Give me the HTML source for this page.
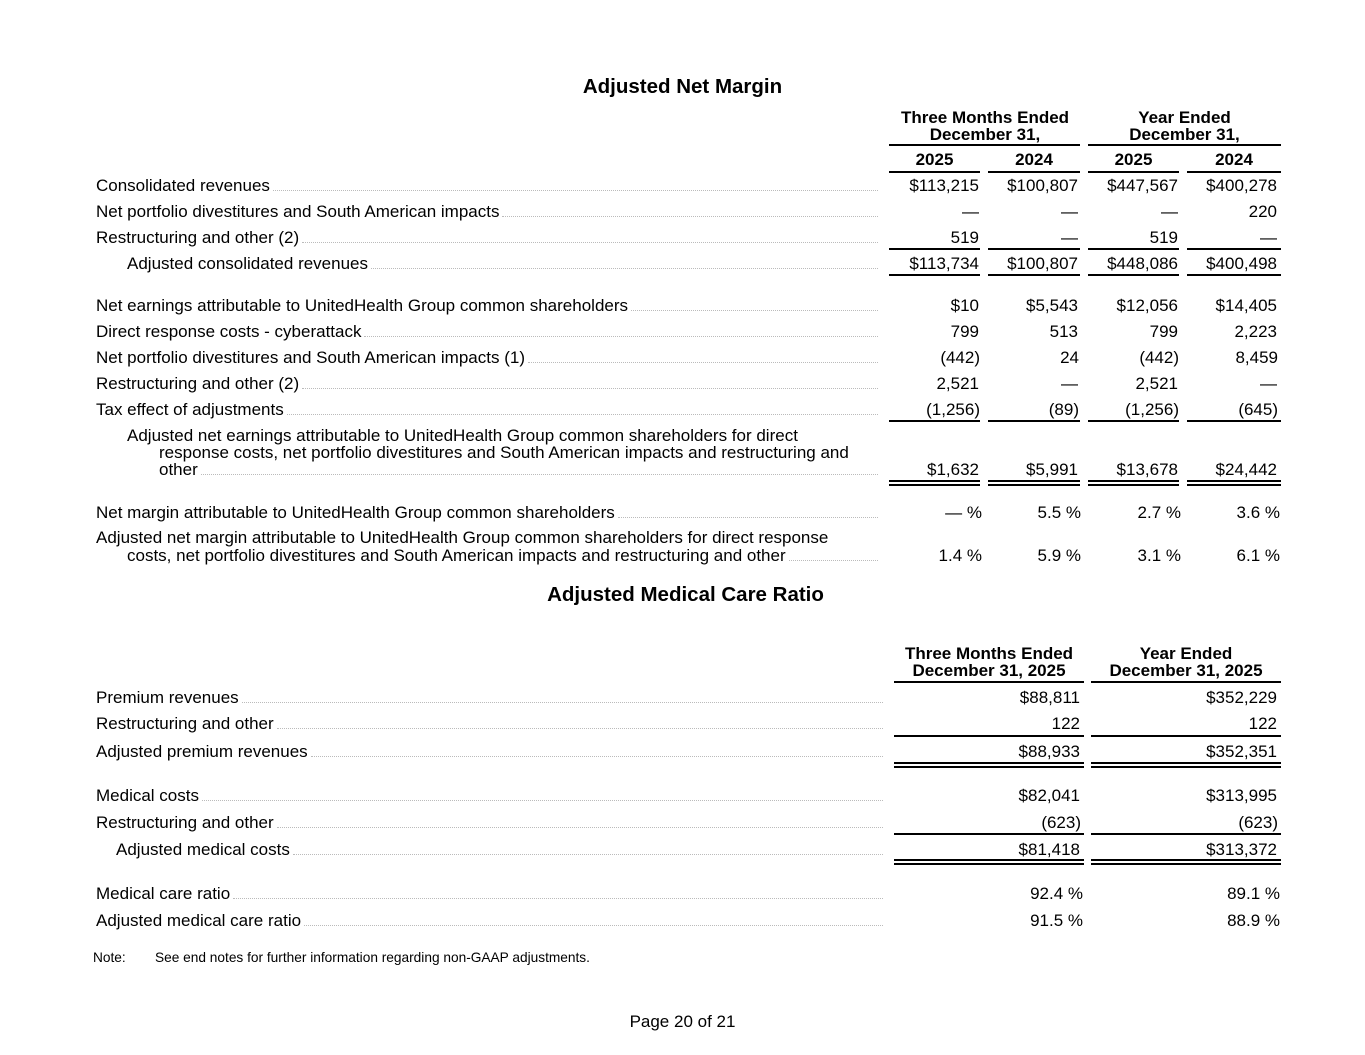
<!DOCTYPE html>
<html><head><meta charset="utf-8"><style>
body{margin:0;width:1365px;height:1055px;background:#fff;position:relative;font-family:"Liberation Sans",Arial,sans-serif;color:#000;overflow:hidden}
div{position:absolute}
#w{left:0;top:1px;width:1365px;height:1054px}
.t{font-weight:bold;font-size:20.5px;width:1365px;text-align:center;line-height:22px}
.r{left:96px;width:782px;height:20px;display:flex;font-size:17px;line-height:20px;white-space:nowrap}
.r2{width:787px}
.l{flex:1;border-bottom:1px dotted #bbb;margin:0 0 5px 3px}
.x{font-size:17px;line-height:20px;white-space:nowrap;}
.v{font-size:17px;line-height:20px;text-align:right;width:120px;white-space:nowrap}
.h{font-weight:bold;font-size:17px;line-height:17px;text-align:center;white-space:nowrap}
.ln{height:0;border-top:2px solid #000}
.dl{height:2px;border-top:2px solid #000;border-bottom:2px solid #000}
</style></head><body><div id="w">
<div class="t" style="top:75px;left:0">Adjusted Net Margin</div>
<div class="h" style="left:889px;width:192px;top:108px">Three Months Ended<br>December 31,</div>
<div class="h" style="left:1088px;width:193px;top:108px">Year Ended<br>December 31,</div>
<div class="ln" style="left:889px;width:191px;top:143px"></div>
<div class="ln" style="left:1088px;width:193px;top:143px"></div>
<div class="h" style="left:889px;width:91px;top:150px">2025</div>
<div class="h" style="left:988px;width:92px;top:150px">2024</div>
<div class="h" style="left:1088px;width:91px;top:150px">2025</div>
<div class="h" style="left:1187px;width:94px;top:150px">2024</div>
<div class="ln" style="left:889px;width:91px;top:170px"></div>
<div class="ln" style="left:988px;width:92px;top:170px"></div>
<div class="ln" style="left:1088px;width:91px;top:170px"></div>
<div class="ln" style="left:1187px;width:94px;top:170px"></div>

<div class="r" style="top:175px"><span>Consolidated revenues</span><span class="l"></span></div>
<div class="r" style="top:201px"><span>Net portfolio divestitures and South American impacts</span><span class="l"></span></div>
<div class="r" style="top:227px"><span>Restructuring and other (2)</span><span class="l"></span></div>
<div class="r" style="top:253px;left:127px;width:751px"><span>Adjusted consolidated revenues</span><span class="l"></span></div>
<div class="r" style="top:295px"><span>Net earnings attributable to UnitedHealth Group common shareholders</span><span class="l"></span></div>
<div class="r" style="top:321px"><span>Direct response costs - cyberattack</span><span class="l"></span></div>
<div class="r" style="top:347px"><span>Net portfolio divestitures and South American impacts (1)</span><span class="l"></span></div>
<div class="r" style="top:373px"><span>Restructuring and other (2)</span><span class="l"></span></div>
<div class="r" style="top:399px"><span>Tax effect of adjustments</span><span class="l"></span></div>
<div class="x" style="top:425px;left:127px">Adjusted net earnings attributable to UnitedHealth Group common shareholders for direct</div>
<div class="x" style="top:442px;left:159px">response costs, net portfolio divestitures and South American impacts and restructuring and</div>
<div class="r" style="top:459px;left:159px;width:719px"><span>other</span><span class="l"></span></div>
<div class="r" style="top:502px"><span>Net margin attributable to UnitedHealth Group common shareholders</span><span class="l"></span></div>
<div class="x" style="top:527px;left:96px">Adjusted net margin attributable to UnitedHealth Group common shareholders for direct response</div>
<div class="r" style="top:545px;left:127px;width:751px"><span>costs, net portfolio divestitures and South American impacts and restructuring and other</span><span class="l"></span></div>

<div class="v" style="top:175px;left:859px">$113,215</div><div class="v" style="top:175px;left:958px">$100,807</div><div class="v" style="top:175px;left:1058px">$447,567</div><div class="v" style="top:175px;left:1157px">$400,278</div>
<div class="v" style="top:201px;left:859px">—</div><div class="v" style="top:201px;left:958px">—</div><div class="v" style="top:201px;left:1058px">—</div><div class="v" style="top:201px;left:1157px">220</div>
<div class="v" style="top:227px;left:859px">519</div><div class="v" style="top:227px;left:958px">—</div><div class="v" style="top:227px;left:1058px">519</div><div class="v" style="top:227px;left:1157px">—</div>
<div class="ln" style="left:889px;width:91px;top:247px"></div><div class="ln" style="left:988px;width:92px;top:247px"></div><div class="ln" style="left:1088px;width:91px;top:247px"></div><div class="ln" style="left:1187px;width:94px;top:247px"></div>
<div class="v" style="top:253px;left:859px">$113,734</div><div class="v" style="top:253px;left:958px">$100,807</div><div class="v" style="top:253px;left:1058px">$448,086</div><div class="v" style="top:253px;left:1157px">$400,498</div>
<div class="ln" style="left:889px;width:91px;top:273px"></div><div class="ln" style="left:988px;width:92px;top:273px"></div><div class="ln" style="left:1088px;width:91px;top:273px"></div><div class="ln" style="left:1187px;width:94px;top:273px"></div>
<div class="v" style="top:295px;left:859px">$10</div><div class="v" style="top:295px;left:958px">$5,543</div><div class="v" style="top:295px;left:1058px">$12,056</div><div class="v" style="top:295px;left:1157px">$14,405</div>
<div class="v" style="top:321px;left:859px">799</div><div class="v" style="top:321px;left:958px">513</div><div class="v" style="top:321px;left:1058px">799</div><div class="v" style="top:321px;left:1157px">2,223</div>
<div class="v" style="top:347px;left:860px">(442)</div><div class="v" style="top:347px;left:959px">24</div><div class="v" style="top:347px;left:1059px">(442)</div><div class="v" style="top:347px;left:1158px">8,459</div>
<div class="v" style="top:373px;left:859px">2,521</div><div class="v" style="top:373px;left:958px">—</div><div class="v" style="top:373px;left:1058px">2,521</div><div class="v" style="top:373px;left:1157px">—</div>
<div class="v" style="top:399px;left:860px">(1,256)</div><div class="v" style="top:399px;left:959px">(89)</div><div class="v" style="top:399px;left:1059px">(1,256)</div><div class="v" style="top:399px;left:1158px">(645)</div>
<div class="ln" style="left:889px;width:91px;top:419px"></div><div class="ln" style="left:988px;width:92px;top:419px"></div><div class="ln" style="left:1088px;width:91px;top:419px"></div><div class="ln" style="left:1187px;width:94px;top:419px"></div>
<div class="v" style="top:459px;left:859px">$1,632</div><div class="v" style="top:459px;left:958px">$5,991</div><div class="v" style="top:459px;left:1058px">$13,678</div><div class="v" style="top:459px;left:1157px">$24,442</div>
<div class="dl" style="left:889px;width:91px;top:479px"></div><div class="dl" style="left:988px;width:92px;top:479px"></div><div class="dl" style="left:1088px;width:91px;top:479px"></div><div class="dl" style="left:1187px;width:94px;top:479px"></div>
<div class="v" style="top:502px;left:862px">— %</div><div class="v" style="top:502px;left:961px">5.5 %</div><div class="v" style="top:502px;left:1061px">2.7 %</div><div class="v" style="top:502px;left:1160px">3.6 %</div>
<div class="v" style="top:545px;left:862px">1.4 %</div><div class="v" style="top:545px;left:961px">5.9 %</div><div class="v" style="top:545px;left:1061px">3.1 %</div><div class="v" style="top:545px;left:1160px">6.1 %</div>

<div class="t" style="top:583px;left:3px">Adjusted Medical Care Ratio</div>
<div class="h" style="left:894px;width:190px;top:644px">Three Months Ended<br>December 31, 2025</div>
<div class="h" style="left:1091px;width:190px;top:644px">Year Ended<br>December 31, 2025</div>
<div class="ln" style="left:894px;width:190px;top:680px"></div><div class="ln" style="left:1091px;width:190px;top:680px"></div>

<div class="r r2" style="top:687px"><span>Premium revenues</span><span class="l"></span></div>
<div class="r r2" style="top:713px"><span>Restructuring and other</span><span class="l"></span></div>
<div class="r r2" style="top:741px"><span>Adjusted premium revenues</span><span class="l"></span></div>
<div class="r r2" style="top:785px"><span>Medical costs</span><span class="l"></span></div>
<div class="r r2" style="top:812px"><span>Restructuring and other</span><span class="l"></span></div>
<div class="r" style="top:839px;left:116px;width:767px"><span>Adjusted medical costs</span><span class="l"></span></div>
<div class="r r2" style="top:883px"><span>Medical care ratio</span><span class="l"></span></div>
<div class="r r2" style="top:910px"><span>Adjusted medical care ratio</span><span class="l"></span></div>

<div class="v" style="top:687px;left:960px">$88,811</div><div class="v" style="top:687px;left:1157px">$352,229</div>
<div class="v" style="top:713px;left:960px">122</div><div class="v" style="top:713px;left:1157px">122</div>
<div class="ln" style="left:894px;width:190px;top:734px"></div><div class="ln" style="left:1091px;width:190px;top:734px"></div>
<div class="v" style="top:741px;left:960px">$88,933</div><div class="v" style="top:741px;left:1157px">$352,351</div>
<div class="dl" style="left:894px;width:190px;top:761px"></div><div class="dl" style="left:1091px;width:190px;top:761px"></div>
<div class="v" style="top:785px;left:960px">$82,041</div><div class="v" style="top:785px;left:1157px">$313,995</div>
<div class="v" style="top:812px;left:961px">(623)</div><div class="v" style="top:812px;left:1158px">(623)</div>
<div class="ln" style="left:894px;width:190px;top:832px"></div><div class="ln" style="left:1091px;width:190px;top:832px"></div>
<div class="v" style="top:839px;left:960px">$81,418</div><div class="v" style="top:839px;left:1157px">$313,372</div>
<div class="dl" style="left:894px;width:190px;top:858px"></div><div class="dl" style="left:1091px;width:190px;top:858px"></div>
<div class="v" style="top:883px;left:963px">92.4 %</div><div class="v" style="top:883px;left:1160px">89.1 %</div>
<div class="v" style="top:910px;left:963px">91.5 %</div><div class="v" style="top:910px;left:1160px">88.9 %</div>

<div class="x" style="top:947px;left:93px;font-size:13.7px">Note:</div>
<div class="x" style="top:947px;left:155px;font-size:13.7px">See end notes for further information regarding non-GAAP adjustments.</div>
<div class="x" style="top:1011px;left:0;width:1365px;text-align:center;font-size:17px">Page 20 of 21</div>
</div></body></html>
